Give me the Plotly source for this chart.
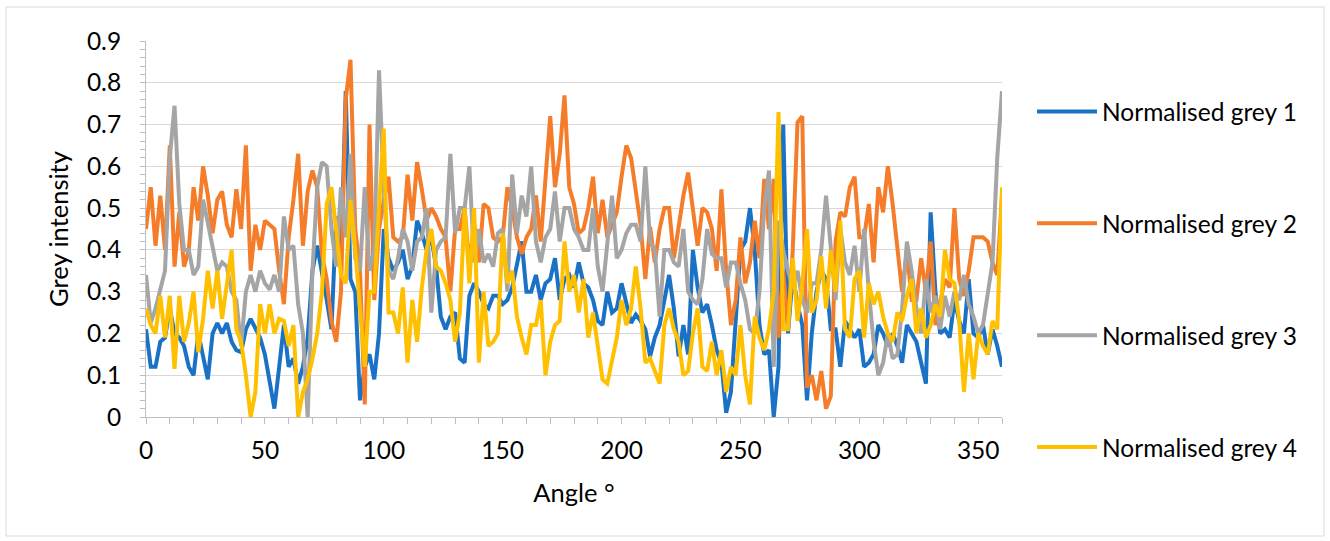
import plotly.graph_objects as go

# Angle samples (degrees)
angles = list(range(0, 361, 2))

grey_1 = [
    0.21, 0.12, 0.12, 0.18, 0.19, 0.26, 0.20, 0.19, 0.17, 0.12, 0.10, 0.20, 0.145, 0.09, 0.20, 0.225, 0.20, 0.225, 0.18, 0.16, 0.155, 0.21, 0.235,
    0.21, 0.19, 0.15, 0.09, 0.02, 0.12, 0.22, 0.12, 0.14, 0.08, 0.12, 0.19, 0.35, 0.41, 0.35, 0.28, 0.21, 0.48, 0.37, 0.78, 0.33, 0.30,
    0.04, 0.12, 0.15, 0.09, 0.20, 0.45, 0.38, 0.35, 0.37, 0.40, 0.33, 0.36, 0.47, 0.44, 0.40, 0.43, 0.36, 0.24, 0.21, 0.24, 0.25, 0.14,
    0.13, 0.29, 0.32, 0.30, 0.27, 0.26, 0.29, 0.29, 0.27, 0.28, 0.31, 0.36, 0.42, 0.30, 0.30, 0.34, 0.28, 0.32, 0.33, 0.38, 0.28, 0.33,
    0.34, 0.31, 0.37, 0.32, 0.31, 0.28, 0.23, 0.22, 0.30, 0.25, 0.26, 0.32, 0.27, 0.225, 0.245, 0.23, 0.21, 0.145, 0.19, 0.22, 0.28, 0.34,
    0.26, 0.145, 0.22, 0.15, 0.40, 0.31, 0.25, 0.27, 0.22, 0.16, 0.13, 0.01, 0.06, 0.22, 0.40, 0.42, 0.50, 0.40, 0.22, 0.15, 0.16, 0.0,
    0.12, 0.70, 0.20, 0.34, 0.27, 0.22, 0.04, 0.20, 0.30, 0.35, 0.33, 0.21, 0.21, 0.12, 0.23, 0.21, 0.19, 0.21, 0.12, 0.13, 0.15, 0.22,
    0.20, 0.17, 0.20, 0.17, 0.13, 0.22, 0.20, 0.18, 0.13, 0.08, 0.49, 0.30, 0.20, 0.21, 0.19, 0.28, 0.23, 0.20, 0.33, 0.20, 0.19, 0.22, 0.15, 0.21, 0.17, 0.12,
]

grey_2 = [
    0.45, 0.55, 0.41, 0.53, 0.40, 0.65, 0.36, 0.49, 0.36, 0.40, 0.55, 0.47, 0.60, 0.53, 0.44, 0.52, 0.54, 0.46, 0.43, 0.545, 0.45, 0.65, 0.35,
    0.46, 0.40, 0.47, 0.46, 0.45, 0.35, 0.27, 0.43, 0.52, 0.63, 0.41, 0.54, 0.59, 0.55, 0.39, 0.33, 0.23, 0.18, 0.30, 0.76, 0.855, 0.45,
    0.35, 0.03, 0.70, 0.28, 0.45, 0.52, 0.575, 0.43, 0.42, 0.43, 0.58, 0.47, 0.61, 0.545, 0.47, 0.50, 0.48, 0.45, 0.43, 0.30, 0.45, 0.45,
    0.50, 0.36, 0.465, 0.37, 0.51, 0.50, 0.43, 0.42, 0.43, 0.55, 0.50, 0.43, 0.39, 0.43, 0.45, 0.53, 0.42, 0.57, 0.72, 0.55, 0.63, 0.77,
    0.55, 0.51, 0.44, 0.45, 0.50, 0.575, 0.44, 0.52, 0.43, 0.46, 0.49, 0.575, 0.65, 0.62, 0.54, 0.46, 0.33, 0.455, 0.37, 0.45, 0.50, 0.50,
    0.38, 0.45, 0.53, 0.585, 0.49, 0.41, 0.50, 0.49, 0.45, 0.35, 0.545, 0.35, 0.22, 0.28, 0.43, 0.32, 0.37, 0.47, 0.38, 0.57, 0.45, 0.57,
    0.19, 0.35, 0.21, 0.40, 0.705, 0.72, 0.07, 0.10, 0.04, 0.11, 0.02, 0.05, 0.42, 0.49, 0.48, 0.55, 0.575, 0.43, 0.43, 0.51, 0.37, 0.55,
    0.49, 0.60, 0.51, 0.40, 0.30, 0.40, 0.28, 0.28, 0.38, 0.30, 0.42, 0.22, 0.28, 0.33, 0.31, 0.50, 0.33, 0.29, 0.35, 0.43, 0.43, 0.43, 0.42, 0.37, 0.34, 0.53,
]

grey_3 = [
    0.34, 0.225, 0.26, 0.31, 0.35, 0.62, 0.745, 0.51, 0.40, 0.40, 0.34, 0.36, 0.52, 0.465, 0.41, 0.35, 0.37, 0.36, 0.30, 0.28, 0.17, 0.30, 0.34,
    0.30, 0.35, 0.32, 0.305, 0.34, 0.30, 0.48, 0.40, 0.41, 0.27, 0.20, 0.0, 0.35, 0.55, 0.61, 0.60, 0.45, 0.36, 0.55, 0.43, 0.63, 0.38,
    0.35, 0.55, 0.35, 0.40, 0.83, 0.55, 0.35, 0.33, 0.38, 0.45, 0.42, 0.35, 0.42, 0.43, 0.50, 0.25, 0.40, 0.42, 0.43, 0.63, 0.44, 0.50,
    0.50, 0.60, 0.37, 0.45, 0.37, 0.39, 0.36, 0.44, 0.45, 0.30, 0.58, 0.44, 0.53, 0.48, 0.60, 0.42, 0.37, 0.43, 0.45, 0.54, 0.42, 0.50,
    0.50, 0.45, 0.43, 0.40, 0.40, 0.50, 0.36, 0.30, 0.42, 0.53, 0.38, 0.40, 0.44, 0.46, 0.46, 0.42, 0.60, 0.42, 0.40, 0.24, 0.40, 0.40,
    0.37, 0.36, 0.45, 0.30, 0.28, 0.27, 0.33, 0.45, 0.39, 0.38, 0.38, 0.31, 0.37, 0.37, 0.32, 0.28, 0.21, 0.20, 0.30, 0.50, 0.59, 0.12,
    0.47, 0.40, 0.35, 0.31, 0.35, 0.28, 0.25, 0.32, 0.32, 0.40, 0.53, 0.40, 0.28, 0.45, 0.37, 0.34, 0.41, 0.30, 0.45, 0.30, 0.18, 0.10,
    0.13, 0.20, 0.14, 0.15, 0.26, 0.42, 0.35, 0.26, 0.20, 0.33, 0.25, 0.29, 0.21, 0.29, 0.24, 0.30, 0.28, 0.34, 0.27, 0.24, 0.20, 0.22, 0.30, 0.37, 0.62, 0.78,
]

grey_4 = [
    0.26, 0.22, 0.20, 0.29, 0.19, 0.29, 0.115, 0.29, 0.18, 0.225, 0.30, 0.155, 0.235, 0.35, 0.26, 0.35, 0.235, 0.32, 0.40, 0.21, 0.18, 0.10, 0.0,
    0.06, 0.27, 0.20, 0.27, 0.20, 0.235, 0.23, 0.17, 0.22, 0.0, 0.06, 0.09, 0.14, 0.20, 0.30, 0.51, 0.55, 0.45, 0.34, 0.32, 0.52, 0.40,
    0.25, 0.12, 0.30, 0.30, 0.50, 0.69, 0.25, 0.25, 0.20, 0.31, 0.13, 0.28, 0.18, 0.31, 0.40, 0.45, 0.36, 0.35, 0.32, 0.28, 0.18, 0.25,
    0.50, 0.32, 0.50, 0.13, 0.30, 0.17, 0.18, 0.20, 0.44, 0.32, 0.35, 0.24, 0.19, 0.15, 0.22, 0.22, 0.28, 0.10, 0.18, 0.22, 0.23, 0.42,
    0.30, 0.34, 0.25, 0.33, 0.19, 0.25, 0.17, 0.09, 0.08, 0.13, 0.19, 0.28, 0.22, 0.26, 0.36, 0.26, 0.13, 0.14, 0.11, 0.08, 0.22, 0.26,
    0.21, 0.18, 0.10, 0.11, 0.20, 0.26, 0.12, 0.11, 0.18, 0.10, 0.16, 0.06, 0.12, 0.10, 0.22, 0.10, 0.03, 0.24, 0.19, 0.16, 0.21, 0.30,
    0.73, 0.21, 0.21, 0.38, 0.23, 0.32, 0.45, 0.25, 0.28, 0.385, 0.26, 0.40, 0.30, 0.47, 0.21, 0.19, 0.33, 0.35, 0.19, 0.32, 0.27, 0.30,
    0.24, 0.20, 0.18, 0.25, 0.23, 0.29, 0.33, 0.20, 0.26, 0.19, 0.22, 0.27, 0.24, 0.40, 0.33, 0.32, 0.23, 0.06, 0.20, 0.09, 0.20, 0.17, 0.15, 0.23, 0.21, 0.55,
]

series_names = ["Normalised grey 1", "Normalised grey 2", "Normalised grey 3", "Normalised grey 4"]
series_values = [grey_1, grey_2, grey_3, grey_4]
series_colors = ["#1a72c6", "#f57d2a", "#a5a5a5", "#ffc000"]

x_tick_values = [0, 50, 100, 150, 200, 250, 300, 350]

FONT = "Lato"
TEXT = "#000000"
TICK_SIZE = 24.5
TITLE_SIZE = 25.5

fig = go.Figure()
for i, (name, vals, col) in enumerate(zip(series_names, series_values, series_colors)):
    fig.add_trace(go.Scatter(
        x=angles, y=vals, name=name, mode="lines",
        line=dict(color=col, width=4),
        legendgroup=f"g{i}",
    ))

W, H = 1330, 541
L, R, T, B = 146, 328, 41, 124
pw, ph = W - L - R, H - T - B

def px_to_paper_x(px):
    return (px - L) / pw

def px_to_paper_y(py):
    return (H - B - py) / ph

fig.update_layout(
    width=W, height=H,
    margin=dict(l=L, r=R, t=T, b=B, pad=0),
    paper_bgcolor="white", plot_bgcolor="white",
    font=dict(family=FONT, size=TICK_SIZE, color=TEXT),
    showlegend=True,
    legend=dict(
        x=px_to_paper_x(1032), xanchor="left",
        y=px_to_paper_y(89), yanchor="top",
        tracegroupgap=77,
        maxheight=520,
        font=dict(family=FONT, size=TICK_SIZE, color=TEXT),
        bgcolor="rgba(0,0,0,0)",
        itemwidth=60,
    ),
    xaxis=dict(
        range=[0, 360],
        tickmode="array", tickvals=x_tick_values,
        ticks="outside", ticklen=6, tickcolor="#bfbfbf", tickwidth=1,
        minor=dict(dtick=10, tick0=0, ticks="outside", ticklen=6,
                   tickcolor="#bfbfbf", showgrid=False),
        showline=True, linecolor="#bfbfbf", linewidth=1,
        showgrid=False, zeroline=False,
        tickfont=dict(family=FONT, size=TICK_SIZE, color=TEXT),
        ticklabelstandoff=6,
        title=dict(text="Angle °", font=dict(family=FONT, size=TITLE_SIZE, color=TEXT), standoff=20),
    ),
    yaxis=dict(
        range=[0, 0.9], dtick=0.1, tick0=0,
        tickformat="~g",
        ticks="outside", ticklen=5, tickcolor="#bfbfbf", tickwidth=1,
        minor=dict(dtick=0.02, ticks="outside", ticklen=5,
                   tickcolor="#bfbfbf", showgrid=False),
        showline=True, linecolor="#bfbfbf", linewidth=1,
        showgrid=True, gridcolor="#d9d9d9", gridwidth=1,
        zeroline=False,
        tickfont=dict(family=FONT, size=TICK_SIZE, color=TEXT),
        ticklabelstandoff=14,
        title=dict(text="Grey intensity", font=dict(family=FONT, size=TITLE_SIZE, color=TEXT), standoff=10),
    ),
    shapes=[dict(
        type="rect", xref="paper", yref="paper",
        x0=px_to_paper_x(6), x1=px_to_paper_x(1324),
        y0=px_to_paper_y(536), y1=px_to_paper_y(7),
        line=dict(color="#d9d9d9", width=1), fillcolor="rgba(0,0,0,0)",
        layer="below",
    )],
)

fig.write_html("out.html")
